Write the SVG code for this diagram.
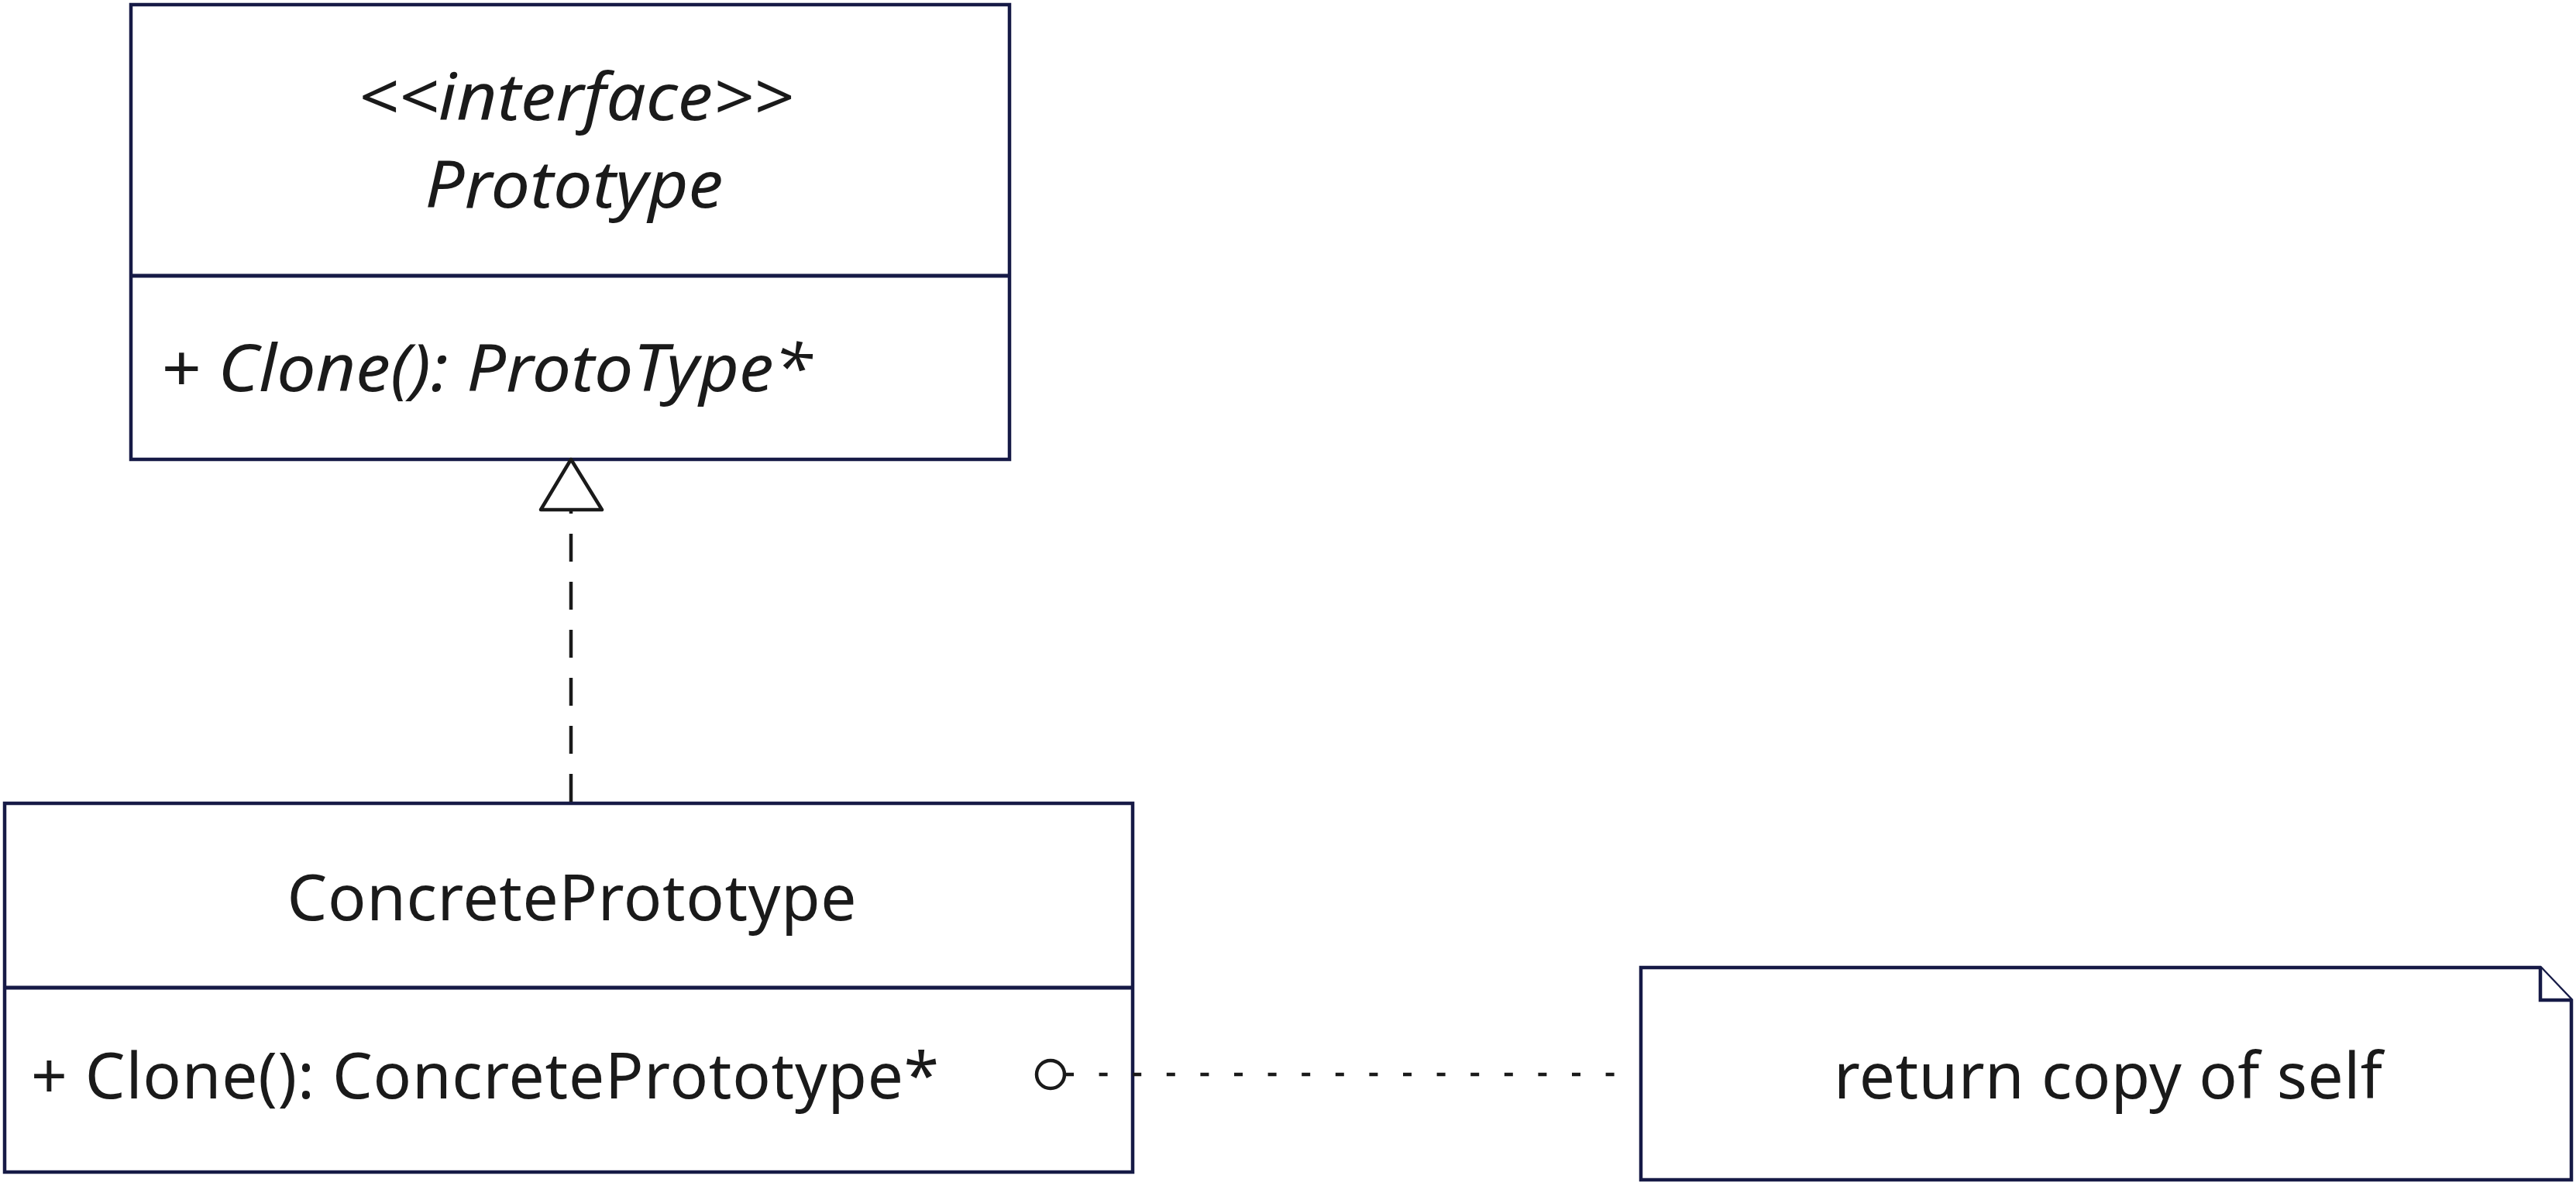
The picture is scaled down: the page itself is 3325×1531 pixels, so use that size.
<svg xmlns="http://www.w3.org/2000/svg" width="3325" height="1531" viewBox="0 0 3325 1531">
<style>
.box{fill:#ffffff;stroke:#161a46;stroke-width:4.5}
.div{stroke:#161a46;stroke-width:5}
.t{font-family:"Noto Sans","Open Sans","Liberation Sans",sans-serif;font-size:82px;fill:#1a1a1a}
.i{font-style:italic;font-size:84px}
.c{text-anchor:middle}
.conn{fill:none;stroke:#1a1a1a;stroke-width:4.5}
</style>
<rect width="3325" height="1531" fill="#ffffff"/>
<g id="prototype">
<rect class="box" x="169" y="6" width="1134" height="587"/>
<line class="div" x1="169" y1="356" x2="1303" y2="356"/>
<text class="t i c" x="743" y="155" textLength="562" lengthAdjust="spacingAndGlyphs">&lt;&lt;interface&gt;&gt;</text>
<text class="t i c" x="741" y="268" textLength="385" lengthAdjust="spacingAndGlyphs">Prototype</text>
<text class="t i" x="207" y="505" textLength="841" lengthAdjust="spacingAndGlyphs">+ Clone(): ProtoType*</text>
</g>
<g id="concrete-prototype">
<rect class="box" x="6" y="1037" width="1456" height="476"/>
<line class="div" x1="6" y1="1275" x2="1462" y2="1275"/>
<text class="t c" x="738" y="1188" textLength="735" lengthAdjust="spacing">ConcretePrototype</text>
<text class="t" x="40" y="1418" textLength="1172" lengthAdjust="spacing">+ Clone(): ConcretePrototype*</text>
</g>
<g id="note">
<path class="box" d="M2118,1249 L3279,1249 L3319,1291 L3319,1523 L2118,1523 Z"/>
<path class="box" d="M3279,1249 L3279,1291 L3319,1291" fill="none"/>
<text class="t c" x="2721" y="1418" textLength="708" lengthAdjust="spacing">return copy of self</text>
</g>
<g id="connectors">
<line class="conn" x1="737" y1="1035" x2="737" y2="658" stroke-dasharray="36 26"/>
<polygon class="conn" points="737,593 777,658 698,658" stroke-linejoin="round" fill="#ffffff"/>
<line class="conn" x1="1375" y1="1387" x2="2087" y2="1387" stroke-dasharray="11 32.6" stroke-width="5"/>
<circle class="conn" cx="1356" cy="1387" r="18" fill="#ffffff"/>
</g>
</svg>
